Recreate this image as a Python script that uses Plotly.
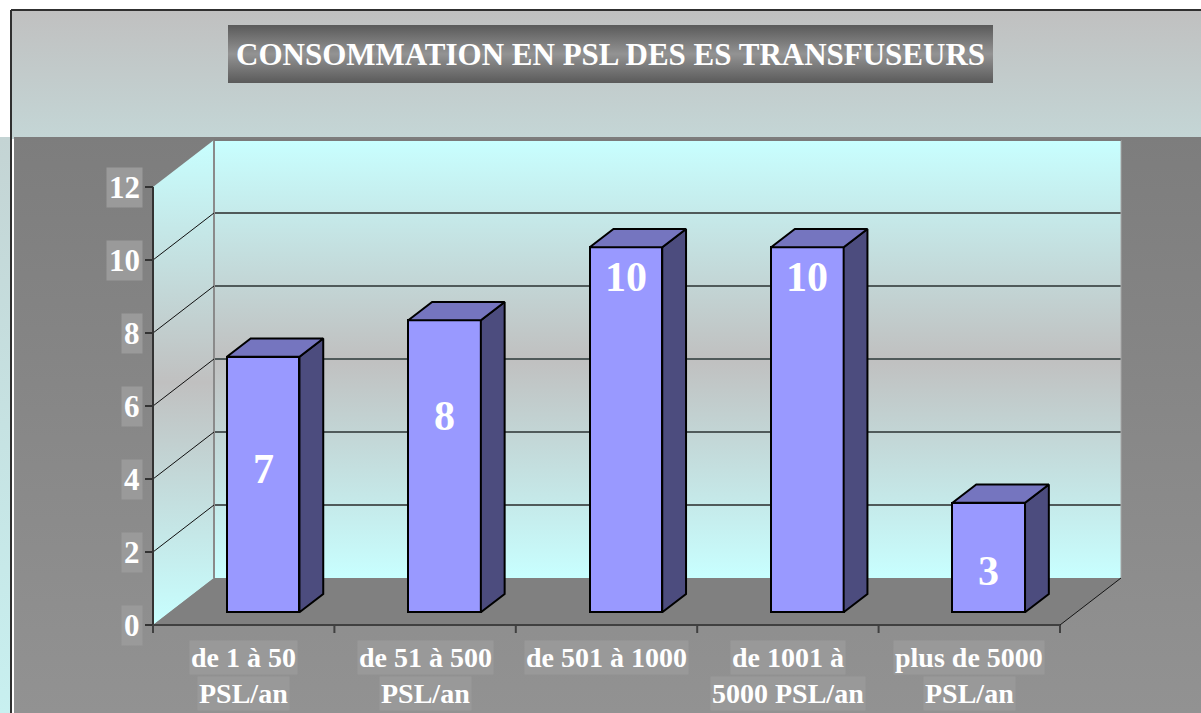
import plotly.graph_objects as go

# ---------------- data ----------------
categories = ["de 1 à 50<br>PSL/an", "de 51 à 500<br>PSL/an", "de 501 à 1000",
              "de 1001 à<br>5000 PSL/an", "plus de 5000<br>PSL/an"]
values = [7, 8, 10, 10, 3]
y_ticks = [0, 2, 4, 6, 8, 10, 12]
title_text = "CONSOMMATION EN PSL DES ES TRANSFUSEURS"

# ---------------- geometry (pixel calibration of the 3D frame) ----------------
W, H = 1201, 713
FX0 = 153.0      # pixel x of front-left floor corner
FCAT = 181.4     # pixels per category
FY0 = 625.0      # pixel y of value 0 on the front plane
FUNIT = 36.5     # pixels per value unit
DEPTH_PX_X, DEPTH_PX_Y = 61.0, 47.0

X0 = -0.5 - FX0 / FCAT
X1 = X0 + W / FCAT
Y0 = -(H - FY0) / FUNIT
Y1 = FY0 / FUNIT
DX = DEPTH_PX_X / FCAT
DY = DEPTH_PX_Y / FUNIT


def px(p):
    return X0 + p / FCAT


def py(p):
    return (FY0 - p) / FUNIT


def proj(x, v, d):
    return x + d * DX, v + d * DY


n = len(categories)
YMAX = max(y_ticks)
XL, XR = -0.5, n - 0.5
BAR_D0 = 0.27       # depth of bar front face
BAR_DEPTH = 0.39    # bar depth
BAR_W = 0.40
BAR_SHIFT = 3 / FCAT

FONT = "Liberation Serif"

fig = go.Figure()


def poly(pts, fillcolor=None, grad=None, line_color=None, lw=0, axes=("x", "y")):
    xs = [p[0] for p in pts] + [pts[0][0]]
    ys = [p[1] for p in pts] + [pts[0][1]]
    kw = dict(x=xs, y=ys, fill="toself", hoverinfo="skip", showlegend=False,
              xaxis=axes[0], yaxis=axes[1])
    if lw > 0:
        kw["mode"] = "lines"
        kw["line"] = dict(width=lw, color=line_color)
    else:
        kw["mode"] = "none"
    if grad is not None:
        kw["fillgradient"] = dict(type="vertical", colorscale=grad)
    else:
        kw["fillcolor"] = fillcolor
    fig.add_trace(go.Scatter(**kw))


def seg(p0, p1, color, width, axes=("x", "y")):
    fig.add_trace(go.Scatter(x=[p0[0], p1[0]], y=[p0[1], p1[1]], mode="lines",
                             line=dict(color=color, width=width), hoverinfo="skip",
                             showlegend=False, xaxis=axes[0], yaxis=axes[1]))


def rect_px(x0, y0, x1, y1, **kw):
    poly([(px(x0), py(y0)), (px(x1), py(y0)), (px(x1), py(y1)), (px(x0), py(y1))], **kw)


# ---------------- backgrounds ----------------
rect_px(0, 137, 11, H, grad=[[0, "#c8f0f0"], [1, "#c4d4d4"]])
rect_px(12, 10, W, 139, grad=[[0, "#c4d6d6"], [1, "#c0c0c0"]])
rect_px(14, 137, W, H, grad=[[0, "#929292"], [1, "#7d7d7d"]])
seg((px(11), py(10)), (px(W), py(10)), "#303030", 2)
seg((px(11), py(10)), (px(11), py(H)), "#303030", 2)

# title box
poly([(px(228), py(25)), (px(993), py(25)), (px(993), py(83)), (px(228), py(83))],
     grad=[[0, "#5a5a5a"], [0.5, "#939393"], [1, "#5a5a5a"]])

wall_grad = [[0, "#c8ffff"], [0.5, "#c0c0c0"], [1, "#c8ffff"]]

# back wall
poly([proj(XL, 0, 1), proj(XR, 0, 1), proj(XR, YMAX, 1), proj(XL, YMAX, 1)], grad=wall_grad)
# side wall
poly([proj(XL, 0, 0), proj(XL, 0, 1), proj(XL, YMAX, 1), proj(XL, YMAX, 0)], grad=wall_grad)
# floor
poly([proj(XL, 0, 0), proj(XR, 0, 0), proj(XR, 0, 1), proj(XL, 0, 1)], fillcolor="#808080")

# back wall grid lines
for v in y_ticks[1:-1]:
    seg(proj(XL, v, 1), proj(XR, v, 1), "#505a5a", 2)
# back wall edges
seg(proj(XL, 0, 1), proj(XL, YMAX, 1), "#8a8a8a", 2)
seg(proj(XR, 0, 1), proj(XR, YMAX, 1), "#a8a8a8", 1)
seg(proj(XL, YMAX, 1), proj(XR, YMAX, 1), "#7a7a7a", 2)
# side wall grid lines
for v in y_ticks[1:-1]:
    seg(proj(XL, v, 0), proj(XL, v, 1), "#101010", 1)

# axis lines and ticks
seg(proj(XL, 0, 0), proj(XL, YMAX, 0), "#333333", 2)
for v in y_ticks:
    seg((XL - 8 / FCAT, v), (XL, v), "#333333", 2)
seg(proj(XL, 0, 0), proj(XR, 0, 0), "#404040", 2)
for i in range(n + 1):
    seg((XL + i, 0), (XL + i, -8 / FUNIT), "#404040", 2)
seg(proj(XR, 0, 0), proj(XR, 0, 1), "#151515", 1)

# ---------------- bars (overlay axes) ----------------
base = BAR_D0 * DY
xc = [i + BAR_D0 * DX + BAR_SHIFT for i in range(n)]
fig.add_trace(go.Bar(x=xc, y=values, base=[base] * n, width=BAR_W,
                     marker=dict(color="#9999ff", line=dict(color="#000000", width=2)),
                     hoverinfo="skip", showlegend=False, xaxis="x2", yaxis="y2"))
for i, v in enumerate(values):
    xl = xc[i] - BAR_W / 2
    xr = xc[i] + BAR_W / 2
    top = base + v
    bdx, bdy = BAR_DEPTH * DX, BAR_DEPTH * DY
    # side face
    poly([(xr, base), (xr + bdx, base + bdy), (xr + bdx, top + bdy), (xr, top)],
         fillcolor="#4c4c7e", line_color="#000000", lw=2, axes=("x2", "y2"))
    # top face
    poly([(xl, top), (xr, top), (xr + bdx, top + bdy), (xl + bdx, top + bdy)],
         fillcolor="#7575bf", line_color="#000000", lw=2, axes=("x2", "y2"))

# ---------------- text ----------------
ann = []
ann.append(dict(x=px(610.5), y=py(54), xref="x", yref="y", text=title_text, showarrow=False,
                font=dict(family=FONT, size=31, color="white", weight="bold")))
for v in y_ticks:
    ann.append(dict(x=px(143), y=v, xref="x", yref="y", text=str(v), showarrow=False,
                    xanchor="right", bgcolor="#9a9a9a", borderpad=2,
                    font=dict(family=FONT, size=31, color="white", weight="bold")))
for i, c in enumerate(categories):
    for j, line in enumerate(c.split("<br>")):
        ann.append(dict(x=i, y=py(657 + 36 * j), xref="x", yref="y", text=line,
                        showarrow=False, bgcolor="#999999", borderpad=1,
                        font=dict(family=FONT, size=28, color="white", weight="bold")))


def label_height(v):
    # Excel-like placement of inner data labels on the 3D bars
    return 0.1505 * v * v - 0.805 * v + 2.18


for i, v in enumerate(values):
    ann.append(dict(x=xc[i], y=base + label_height(v), xref="x", yref="y", text=str(v),
                    showarrow=False,
                    font=dict(family=FONT, size=42, color="white", weight="bold")))

axis_common = dict(visible=False, showgrid=False, zeroline=False, fixedrange=True)
fig.update_layout(
    width=W, height=H, margin=dict(l=0, r=0, t=0, b=0),
    paper_bgcolor="white", plot_bgcolor="white",
    xaxis=dict(range=[X0, X1], **axis_common),
    yaxis=dict(range=[Y0, Y1], **axis_common),
    xaxis2=dict(range=[X0, X1], overlaying="x", **axis_common),
    yaxis2=dict(range=[Y0, Y1], overlaying="y", **axis_common),
    annotations=ann, showlegend=False, bargap=0,
)

fig.write_html("out.html", config={"displayModeBar": False},
               post_script="document.body.style.margin='0';document.body.style.overflow='hidden';")
